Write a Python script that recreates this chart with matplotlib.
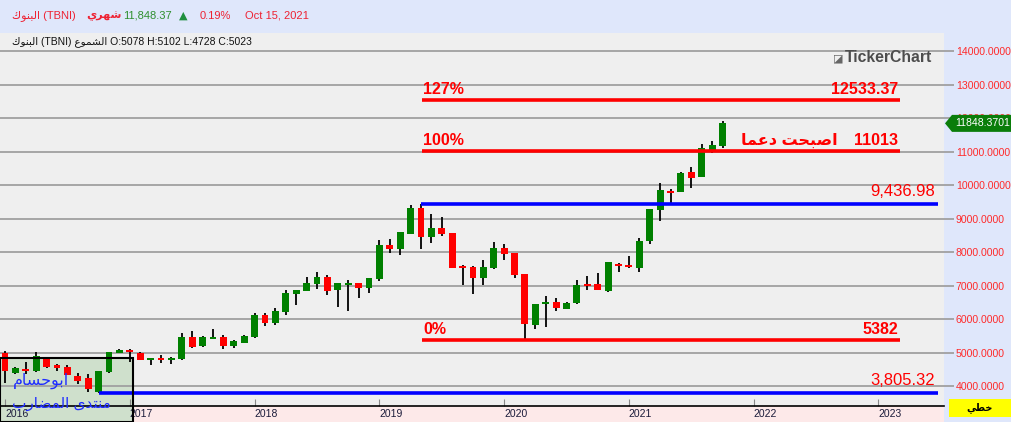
import matplotlib
matplotlib.use('Agg')
import matplotlib.pyplot as plt
import numpy as np
from matplotlib.patches import Rectangle, Polygon

# monthly candles, Jan 2016 .. Oct 2021
opens = [4988, 4403, 4531, 4471, 4809, 4622, 4562, 4313, 4253, 3824,
         4423, 4990, 5078, 5000, 4781, 4850, 4781, 4810, 5470, 5211,
         5410, 5470, 5201, 5291, 5470, 6130, 5890, 6220, 6764, 6845,
         7053, 7263, 6875, 7023, 7083, 6943, 7213, 8222, 8112, 8555,
         9323, 8466, 8726, 8576, 7600, 7561, 7233, 7540, 8128, 7978,
         7352, 5839, 6467, 6517, 6308, 6487, 7053, 7053, 6845, 7650,
         7620, 7531, 8337, 9263, 9830, 9800, 10397, 10248, 11054, 11182]
highs = [5039, 4580, 4722, 5009, 4839, 4672, 4622, 4383, 4363, 4452,
         5009, 5128, 5102, 5010, 4850, 4930, 4870, 5590, 5650, 5500,
         5710, 5530, 5380, 5530, 6190, 6190, 6347, 6884, 6875, 7263,
         7412, 7322, 7083, 7173, 7083, 7232, 8367, 8397, 8606, 9412,
         9436.98, 9143, 9054, 8576, 7620, 7600, 7770, 8307, 8248, 7978,
         7352, 6457, 6696, 6636, 6517, 7173, 7292, 7382, 7710, 7680,
         7889, 8427, 9293, 10069, 9890, 10397, 10546, 11233, 11322, 11919]
lows = [4093, 4380, 4373, 4412, 4552, 4452, 4342, 4074, 3835, 3805.32,
        4403, 4990, 4728, 4781, 4622, 4702, 4672, 4790, 5151, 5181,
        5410, 5100, 5151, 5291, 5440, 5810, 5830, 6130, 6437, 6845,
        6914, 6735, 6378, 6259, 6645, 6794, 7153, 7988, 7928, 8555,
        8108, 8287, 8496, 7540, 7033, 6764, 7033, 7510, 7779, 7233,
        5382, 5720, 5780, 6258, 6308, 6457, 6875, 6875, 6815, 7412,
        7531, 7412, 8248, 8934, 9472, 9800, 9920, 10248, 10964, 11113]
closes = [4451, 4552, 4471, 4919, 4570, 4552, 4342, 4163, 3934, 4442,
          5009, 5069, 5023, 4781, 4850, 4790, 4840, 5470, 5181, 5470,
          5470, 5211, 5350, 5500, 6130, 5890, 6250, 6794, 6875, 7083,
          7263, 6845, 7083, 7083, 6943, 7232, 8222, 8112, 8606, 9323,
          8466, 8726, 8555, 7540, 7540, 7233, 7561, 8128, 7958, 7322,
          5869, 6457, 6517, 6347, 6487, 7023, 6994, 6875, 7710, 7590,
          7560, 8337, 9293, 9860, 9770, 10367, 10218, 11113, 11203, 11848.37]
years = [2016, 2017, 2018, 2019, 2020, 2021, 2022, 2023]

last_price = 11848.3701
change_pct = '0.19%'
last_date = 'Oct 15, 2021'
info_idx = 12

# fibonacci levels
fib_pct = ['127%', '100%', '0%']
fib_vals = [12533.37, 11013, 5382]
fib_text = ['12533.37', '11013', '5382']
fib_from, fib_to = 40.1, 86.1
# support lines
sup_vals = [9436.98, 3805.32]
sup_text = ['9,436.98', '3,805.32']
sup_from = [40, 9]
sup_to = 89.7

W, H = 1012, 422
RED = '#ff0000'
plt.rcParams['font.family'] = ['Liberation Sans', 'DejaVu Sans']


def fx(x):
    return x / W


def fy(y):
    return 1 - y / H


fig = plt.figure(figsize=(W / 100, H / 100), dpi=100, facecolor='#dfe7fb')
fig.add_artist(Rectangle((0, 0), fx(944), 16 / H, transform=fig.transFigure,
                         facecolor='#fde9e9', edgecolor='none', zorder=0))

ax = fig.add_axes([0, 16 / H, 944 / W, (406 - 33) / H])
ax.set_facecolor('#efefef')
ax.set_xlim(-0.48, 90.3)
ax.set_ylim(3412, 14546)

o = np.array(opens, dtype=float)
c = np.array(closes, dtype=float)
idx = np.arange(len(o))
up = c >= o
colors = np.where(up, '#008000', RED)
bottoms = np.minimum(o, c)
heights = np.maximum(np.abs(c - o), 50)
ax.vlines(idx, lows, highs, color='black', lw=1.3, zorder=2)
ax.bar(idx, heights, bottom=bottoms, width=0.66, color=colors, linewidth=0, zorder=3)

# grid + right axis
ax.set_axisbelow(True)
ax.yaxis.tick_right()
yt = np.arange(4000, 14001, 1000)
ax.set_yticks(yt)
ax.set_yticklabels([f'{v:.4f}' for v in yt])
ax.grid(axis='y', color='#a0a0a0', lw=1.3)
ax.tick_params(axis='y', length=7, width=1.3, color='#a0a0a0', labelcolor='#ff2a2a',
               labelsize=7.6, pad=1.5)
ax.set_xticks(np.arange(len(years)) * 12)
ax.set_xticklabels([str(y) for y in years])
for lab in ax.get_xticklabels():
    lab.set_ha('left')
ax.tick_params(axis='x', direction='in', length=5, color='#888888', labelsize=7.5,
               labelcolor='#1b1b3a', pad=2)
for s in ['left', 'top', 'right']:
    ax.spines[s].set_visible(False)
ax.spines['bottom'].set_color('black')
ax.spines['bottom'].set_linewidth(1.2)

# fibonacci lines
ax.hlines(fib_vals, fib_from, fib_to, color=RED, lw=2.6, zorder=4)
for p, v, t in zip(fib_pct, fib_vals, fib_text):
    ax.annotate(p, (fib_from, v), xytext=(1, 3), textcoords='offset pixels',
                ha='left', va='bottom', color=RED, fontsize=11.5, weight='bold')
    ax.annotate(t, (fib_to, v), xytext=(-2, 3), textcoords='offset pixels',
                ha='right', va='bottom', color=RED, fontsize=11.5, weight='bold')
ax.annotate('ﺎﻤﻋﺩ ﺖﺤﺒﺻﺍ', (fib_to, fib_vals[1]), xytext=(-63, 3), textcoords='offset pixels',
            ha='right', va='bottom', color=RED, fontsize=11.5, weight='bold')

# support lines
for v, f, t in zip(sup_vals, sup_from, sup_text):
    ax.hlines(v, f, sup_to, color='#0000ff', lw=2.6, zorder=4)
    ax.annotate(t, (sup_to, v), xytext=(-3, 5), textcoords='offset pixels',
                ha='right', va='bottom', color=RED, fontsize=12)

# watermark box
ax.add_patch(Rectangle((0, 0), fx(133), fy(358), transform=fig.transFigure,
                       facecolor='#cfe0cc', edgecolor='none', clip_on=False, zorder=0.4))
ax.add_patch(Rectangle((0, 0), fx(133), fy(358), transform=fig.transFigure,
                       facecolor='none', edgecolor='black', lw=1.5, clip_on=False, zorder=5))
ax.text(fx(13), fy(381), 'ﻡﺎﺴﺣﻮﺑﺍ', transform=fig.transFigure, color='#1f2dff',
        fontsize=11.5, ha='left', va='center', zorder=6)
ax.text(fx(12), fy(404), 'ﺏﺭﺎﻀﻤﻟﺍ ﻯﺪﺘﻨﻣ', transform=fig.transFigure, color='#1f2dff',
        fontsize=11, ha='left', va='center', zorder=6)

# logo
fig.text(fx(833), fy(58), '◪', color='#666666', fontsize=8, va='center', family='DejaVu Sans')
fig.text(fx(845), fy(58), 'TickerChart', color='#4d4d4d', fontsize=11.3, weight='bold', va='center')

# header
hred = '#ee2233'
fig.text(fx(12), fy(16), 'ﻙﻮﻨﺒﻟﺍ (TBNI)', color=hred, fontsize=8, va='center')
fig.text(fx(86), fy(16), 'ﻱﺮﻬﺷ', color=hred, fontsize=8, va='center', weight='bold')
fig.text(fx(123), fy(16), f'{closes[-1]:,.2f}', color='#2f8f2f', fontsize=8, va='center')
fig.text(fx(179), fy(16), '▲', color='#1f8f3f', fontsize=8, va='center', family='DejaVu Sans')
fig.text(fx(200), fy(16), change_pct, color=hred, fontsize=8, va='center')
fig.text(fx(245), fy(16), last_date, color=hred, fontsize=8, va='center')
fig.text(fx(12), fy(42),
         f'ﻙﻮﻨﺒﻟﺍ (TBNI) ﻉﻮﻤﺸﻟﺍ O:{opens[info_idx]} H:{highs[info_idx]} '
         f'L:{lows[info_idx]} C:{closes[info_idx]}',
         color='#111111', fontsize=7.5, va='center')

# price tag
fig.canvas.draw()
yd = ax.transData.transform((0, last_price))[1]
yc = fig.transFigure.inverted().transform((0, yd))[1]
hh = 8.5 / H
tag = Polygon([(fx(945), yc), (fx(952), yc + hh), (fx(1012), yc + hh),
               (fx(1012), yc - hh), (fx(952), yc - hh)], closed=True,
              transform=fig.transFigure, facecolor='#0a7d0a', edgecolor='none', zorder=10)
fig.add_artist(tag)
fig.text(fx(983), yc, f'{last_price:.4f}', color='white', fontsize=7.6,
         ha='center', va='center', zorder=11)

# chart type box
fig.add_artist(Rectangle((fx(949), fy(417)), fx(63), 18 / H, transform=fig.transFigure,
                         facecolor='#ffff00', edgecolor='none', zorder=10))
fig.text(fx(980), fy(408), 'ﻲﻄﺧ', color='black', fontsize=7, weight='bold',
         ha='center', va='center', zorder=11)

fig.savefig('out.png', dpi=100, facecolor=fig.get_facecolor())
